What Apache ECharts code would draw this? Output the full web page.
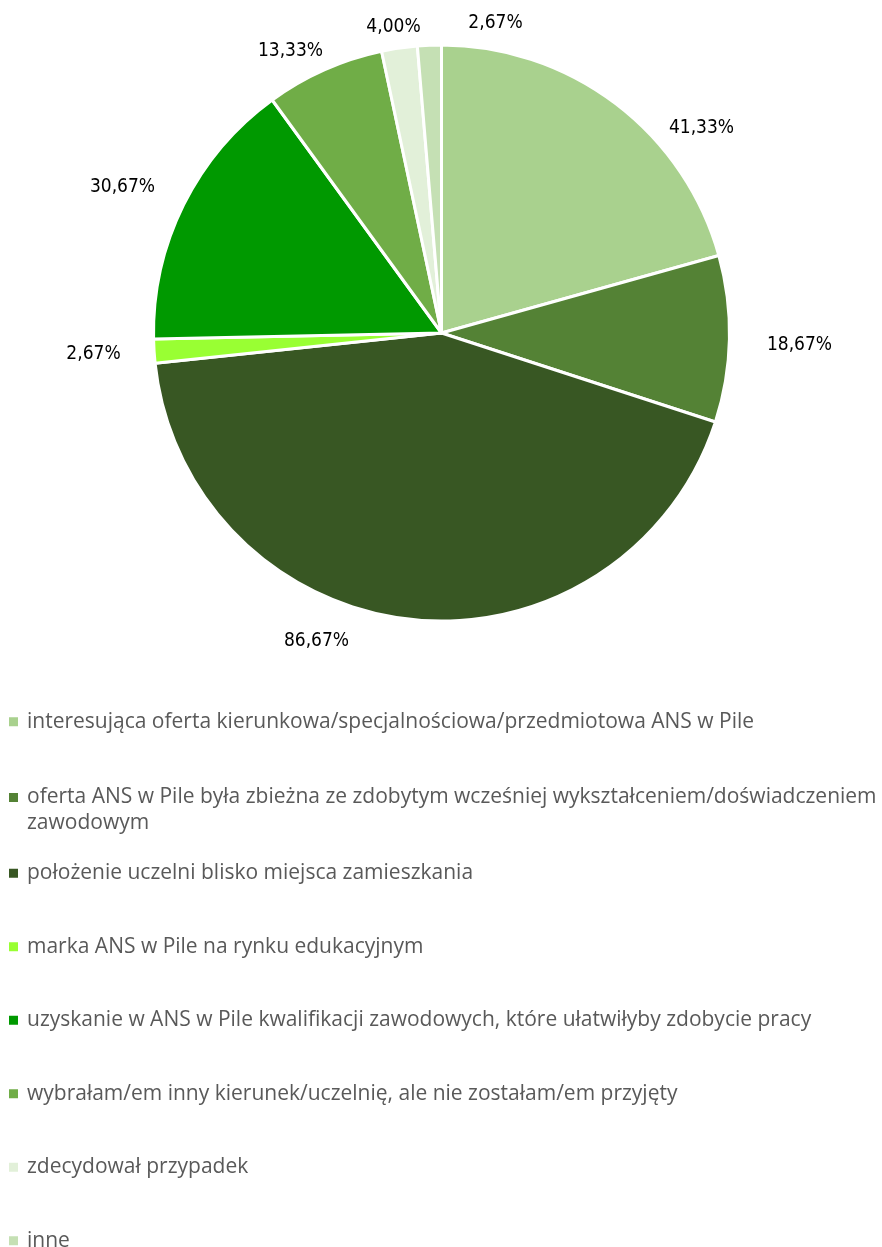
<!DOCTYPE html>
<html>
<head>
<meta charset="utf-8">
<script src="https://cdn.jsdelivr.net/npm/echarts@6/dist/echarts.min.js"></script>
<style>
  html, body { margin: 0; padding: 0; background: #fff; }
  #container { width: 882px; height: 1247px; }
</style>
</head>
<body>
<div id="container"></div>
<script>
var categories = [
    'interesująca oferta kierunkowa/specjalnościowa/przedmiotowa ANS w Pile',
    'oferta ANS w Pile była zbieżna ze zdobytym wcześniej wykształceniem/doświadczeniem zawodowym',
    'położenie uczelni blisko miejsca zamieszkania',
    'marka ANS w Pile na rynku edukacyjnym',
    'uzyskanie w ANS w Pile kwalifikacji zawodowych, które ułatwiłyby zdobycie pracy',
    'wybrałam/em inny kierunek/uczelnię, ale nie zostałam/em przyjęty',
    'zdecydował przypadek',
    'inne'
];
var values = [41.33, 18.67, 86.67, 2.67, 30.67, 13.33, 4.00, 2.67];
var colors = ['#A9D18E', '#548235', '#385723', '#99FF33', '#009900', '#70AD47', '#E2F0D9', '#C5E0B4'];

// layout
var CX = 441.5, CY = 333, R = 288;
// where each percentage label sits, relative to the pie centre
var labelOffsets = [
    [260, -205], [358, 12], [-125, 308], [-348, 21],
    [-319, -146], [-151, -282], [-48, -306], [54, -310]
];

var myChart = echarts.init(document.getElementById('container'));

var pieData = [];
for (var i = 0; i < categories.length; i++) {
    pieData.push({ name: categories[i], value: values[i], itemStyle: { color: colors[i] } });
}

var legendData = categories.map(function (name, i) {
    if (i === 1) {
        // wrapped entry: empty first line keeps the marker next to the first text line
        return { name: name, textStyle: { lineHeight: 26 } };
    }
    return { name: name };
});

var option = {
    animation: false,
    legend: {
        orient: 'vertical',
        left: 9,
        top: 685,
        height: 640,
        padding: 0,
        itemGap: 0,
        itemWidth: 9,
        itemHeight: 9,
        icon: 'rect',
        selectedMode: false,
        itemStyle: { borderWidth: 0 },
        data: legendData,
        formatter: function (name) {
            if (name.indexOf(' zawodowym') > 0 && name.indexOf('oferta ANS') === 0) {
                return '\n' + name.replace(' zawodowym', '\nzawodowym');
            }
            return name;
        },
        textStyle: {
            fontFamily: 'Open Sans',
            fontSize: 21,
            color: '#595959',
            lineHeight: 73.5,
            padding: [0, 0, 0, 4]
        }
    },
    series: [{
        type: 'pie',
        center: [CX, CY],
        radius: R,
        startAngle: 90,
        clockwise: true,
        avoidLabelOverlap: false,
        data: pieData,
        itemStyle: { borderColor: '#fff', borderWidth: 3 },
        label: {
            show: true,
            position: 'outside',
            fontFamily: "'DejaVu Sans Condensed', 'DejaVu Sans'",
            fontSize: 19,
            color: '#000',
            formatter: function (p) {
                return p.value.toFixed(2).replace('.', ',') + '%';
            }
        },
        labelLine: { show: false },
        labelLayout: function (params) {
            var o = labelOffsets[params.dataIndex];
            return { x: CX + o[0], y: CY + o[1], align: 'center', verticalAlign: 'middle' };
        },
        emphasis: { disabled: true }
    }]
};

myChart.setOption(option);
</script>
</body>
</html>
